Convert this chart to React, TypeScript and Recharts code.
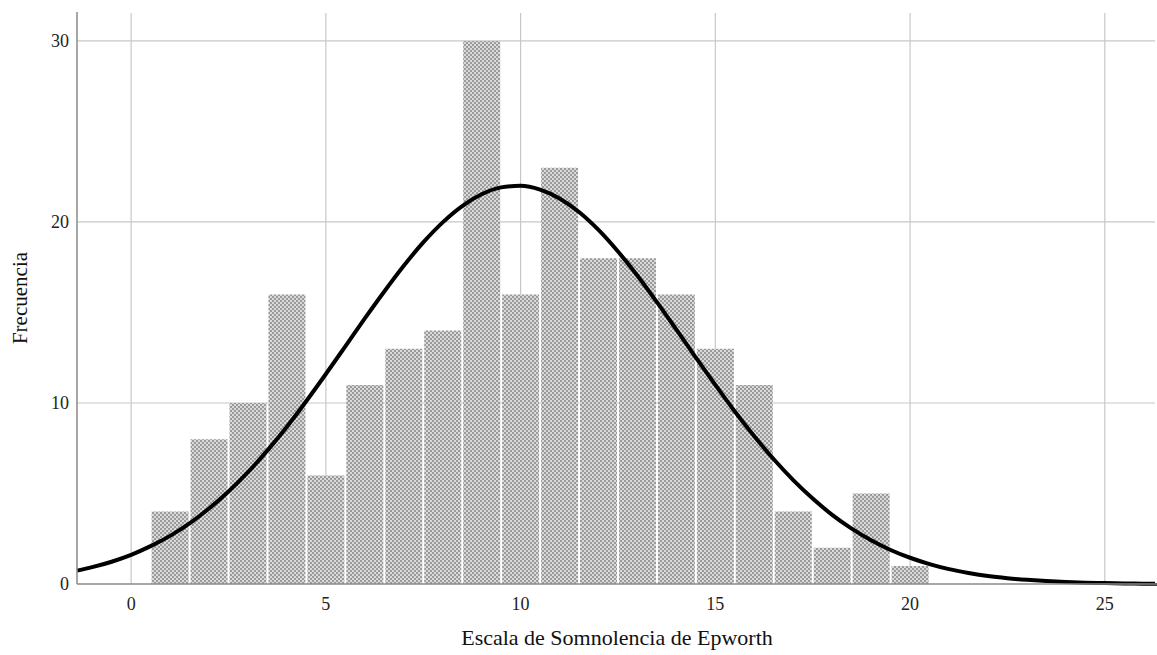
import { ComposedChart, Bar, Line, XAxis, YAxis, CartesianGrid, Label } from "recharts";

// histogram bins (centre value) and counts
const scores = [1, 2, 3, 4, 5, 6, 7, 8, 9, 10, 11, 12, 13, 14, 15, 16, 17, 18, 19, 20];
const counts = [4, 8, 10, 16, 6, 11, 13, 14, 30, 16, 23, 18, 18, 16, 13, 11, 4, 2, 5, 1];

// normal curve, from the left edge of the plot to the right edge
const curveX = [
  -1.39, -1, -0.5, 0, 0.5, 1, 1.5, 2, 2.5, 3, 3.5, 4, 4.5, 5, 5.5, 6, 6.5, 7, 7.5, 8, 8.5, 9, 9.5, 10,
  10.5, 11, 11.5, 12, 12.5, 13, 13.5, 14, 14.5, 15, 15.5, 16, 16.5, 17, 17.5, 18, 18.5, 19, 19.5, 20,
  20.5, 21, 21.5, 22, 22.5, 23, 23.5, 24, 24.5, 25, 25.5, 26, 26.34,
];
const curveY = [
  0.74, 0.93, 1.23, 1.61, 2.09, 2.66, 3.35, 4.17, 5.11, 6.18, 7.38, 8.69, 10.11, 11.6, 13.13, 14.67,
  16.16, 17.58, 18.87, 19.98, 20.88, 21.53, 21.91, 22.0, 21.79, 21.3, 20.55, 19.56, 18.37, 17.03, 15.57,
  14.05, 12.51, 11.0, 9.53, 8.16, 6.89, 5.74, 4.72, 3.82, 3.06, 2.42, 1.88, 1.45, 1.1, 0.82, 0.61, 0.44,
  0.32, 0.23, 0.16, 0.11, 0.07, 0.05, 0.03, 0.02, 0.01,
];

const xTicks = [0, 5, 10, 15, 20, 25];
const yTicks = [0, 10, 20, 30];
const gridY = [10, 20, 30];

const barData = scores.map((s, i) => ({ score: s, count: counts[i] }));
const curveData = curveX.map((x, i) => ({ x, y: curveY[i] }));

const X_DOMAIN: [number, number] = [-1.39, 26.34];
const Y_DOMAIN: [number, number] = [0, 31.6];
const FONT = "'Liberation Serif', 'DejaVu Serif', serif";

// grid lines only at the tick values
const gridRows = ({ offset }: any) =>
  gridY.map((v) => offset.top + offset.height * (1 - (v - Y_DOMAIN[0]) / (Y_DOMAIN[1] - Y_DOMAIN[0])));
const gridCols = ({ offset }: any) =>
  xTicks.map((v) => offset.left + (offset.width * (v - X_DOMAIN[0])) / (X_DOMAIN[1] - X_DOMAIN[0]));

export default function App() {
  return (
    <div style={{ position: "absolute", left: 0, top: 0, width: 1157, height: 655, background: "#fff" }}>
      <ComposedChart
        width={1157}
        height={655}
        data={barData}
        margin={{ top: 12, right: 0, left: 17, bottom: 41 }}
      >
        <defs>
          <pattern id="dots" width="4" height="4" patternUnits="userSpaceOnUse">
            <rect width="4" height="4" fill="#dadada" />
            <rect x="0" y="0" width="2" height="2" fill="#9a9a9a" />
            <rect x="2" y="2" width="2" height="2" fill="#9a9a9a" />
          </pattern>
        </defs>
        <CartesianGrid
          stroke="#c8c8c8"
          strokeWidth={1.2}
          horizontalCoordinatesGenerator={gridRows}
          verticalCoordinatesGenerator={gridCols}
        />
        <XAxis
          dataKey="score"
          type="number"
          domain={X_DOMAIN}
          ticks={xTicks}
          tickLine={false}
          tickMargin={7}
          axisLine={{ stroke: "#8a8a8a", strokeWidth: 1.5 }}
          tick={{ fontSize: 18, fill: "#222", fontFamily: FONT }}
        >
          <Label
            content={(props: any) => {
              const vb = props.viewBox || { x: 77, y: 584, width: 1080 };
              return (
                <text x={vb.x + vb.width / 2} y={vb.y + 61} textAnchor="middle" fontSize={22} fill="#111" fontFamily={FONT}>
                  Escala de Somnolencia de Epworth
                </text>
              );
            }}
          />
        </XAxis>
        <XAxis xAxisId="curve" dataKey="x" type="number" domain={X_DOMAIN} hide />
        <YAxis
          type="number"
          domain={Y_DOMAIN}
          ticks={yTicks}
          width={60}
          tickLine={false}
          axisLine={{ stroke: "#8a8a8a", strokeWidth: 1.5 }}
          tick={{ fontSize: 18, fill: "#222", fontFamily: FONT }}
        >
          <Label
            content={(props: any) => {
              const vb = props.viewBox || { x: 17, y: 12, height: 572 };
              const cx = vb.x + 10;
              const cy = vb.y + vb.height / 2;
              return (
                <text x={cx} y={cy} transform={`rotate(-90, ${cx}, ${cy})`} textAnchor="middle" fontSize={21} fill="#111" fontFamily={FONT}>
                  Frecuencia
                </text>
              );
            }}
          />
        </YAxis>
        <Bar dataKey="count" fill="url(#dots)" barSize={37} isAnimationActive={false} />
        <Line
          xAxisId="curve"
          data={curveData}
          dataKey="y"
          type="monotone"
          stroke="#000"
          strokeWidth={4}
          dot={false}
          activeDot={false}
          isAnimationActive={false}
        />
      </ComposedChart>
      {/* hide the frame line drawn along the top and right edges of the plot */}
      <div style={{ position: "absolute", left: 78, top: 11, width: 1079, height: 2, background: "#fff" }} />
      <div style={{ position: "absolute", left: 1155, top: 11, width: 2, height: 572, background: "#fff" }} />
    </div>
  );
}
